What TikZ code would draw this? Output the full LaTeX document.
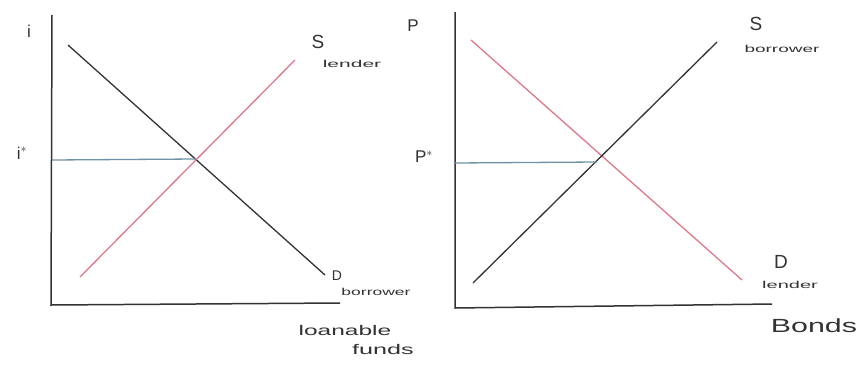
\documentclass[tikz,border=0pt]{standalone}
\usepackage{fontspec}
\setmainfont{Liberation Sans}
\definecolor{ink}{HTML}{333333}
\definecolor{pinkline}{HTML}{E0788A}
\definecolor{blueline}{HTML}{6F93A6}
\newcommand{\hwide}[2]{\scalebox{#1}[1]{#2}}
\begin{document}
\begin{tikzpicture}[x=1pt,y=-1pt,
  axis/.style={draw=ink,line width=1.5pt},
  curve/.style={line width=1.3pt},
  lbl/.style={text=ink,inner sep=0pt},
  big/.style={lbl,font=\fontsize{19}{19}\selectfont},
  small/.style={lbl,font=\fontsize{10}{10}\selectfont},
  mid/.style={lbl,font=\fontsize{14}{14}\selectfont},
  axlbl/.style={lbl,font=\fontsize{17}{17}\selectfont}]
\useasboundingbox[fill=white] (0,0) rectangle (859,364);
% ---- left panel ----
\coordinate (Ltop) at (52,15);
\coordinate (Lo) at (51,305);
\coordinate (Lr) at (340,303);
\draw[axis] (Ltop) -- (Lo) -- (Lr);
\coordinate (Da1) at (68,45);
\coordinate (Da2) at (325,275);
\draw[curve,ink] (Da1) -- (Da2);
\coordinate (Sa1) at (80,277);
\coordinate (Sa2) at (295,60);
\draw[curve,pinkline] (Sa1) -- (Sa2);
\coordinate (Ea) at (196,159);
\coordinate (Ya) at (52,160);
\draw[curve,blueline] (Ya) -- (Ea);
\node[axlbl] (ilab) at (29,31) {i};
\node[axlbl] (istar) at (22,153) {i$^{*}$};
\node[big] (Sl) at (318,42) {S};
\node[small] (lender1) at (352,64) {\hwide{2.1}{lender}};
\node[mid] (Dl) at (337,276) {D};
\node[small] (borrower1) at (376,292) {\hwide{1.75}{borrower}};
\node[mid] (loan) at (345,330) {\hwide{1.75}{loanable}};
\node[mid] (funds) at (383,349) {\hwide{1.8}{funds}};
% ---- right panel ----
\coordinate (Rtop) at (455,12);
\coordinate (Ro) at (455,308);
\coordinate (Rr) at (772,304);
\draw[axis] (Rtop) -- (Ro) -- (Rr);
\coordinate (Db1) at (471,40);
\coordinate (Db2) at (742,280);
\draw[curve,pinkline] (Db1) -- (Db2);
\coordinate (Sb1) at (473,283);
\coordinate (Sb2) at (717,42);
\draw[curve,ink] (Sb1) -- (Sb2);
\coordinate (Eb) at (597,162);
\coordinate (Yb) at (455,163);
\draw[curve,blueline] (Yb) -- (Eb);
\node[axlbl] (plab) at (413,26) {P};
\node[axlbl] (pstar) at (424,157) {P$^{*}$};
\node[big] (Sr) at (756,24) {S};
\node[small] (borrower2) at (782,49) {\hwide{1.9}{borrower}};
\node[big] (Dr) at (781,262) {D};
\node[small] (lender2) at (790,285) {\hwide{2.0}{lender}};
\node[big] (bonds) at (814,326) {\hwide{1.6}{Bonds}};
\end{tikzpicture}
\end{document}
